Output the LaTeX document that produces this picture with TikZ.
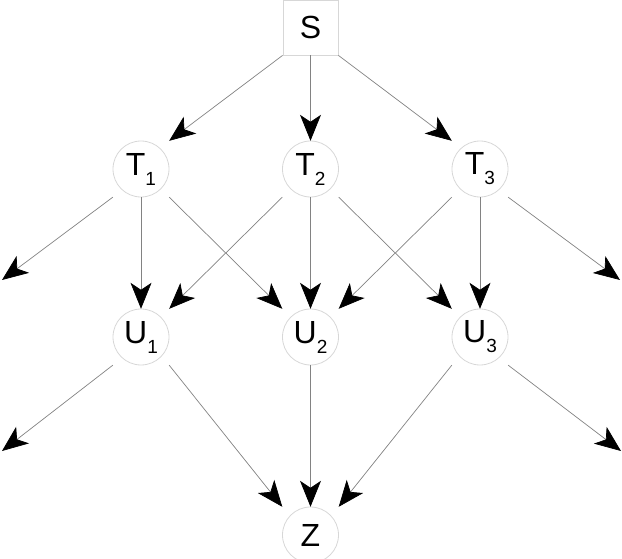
\documentclass[tikz,border=0pt]{standalone}
\usepackage{fontspec}
\setmainfont{Liberation Sans}
\usetikzlibrary{arrows.meta}
\newcommand{\subidx}[1]{\raisebox{-10pt}{\fontsize{19}{19}\selectfont #1}}
\tikzset{bigtip/.tip={Stealth[length=26pt,width=21pt,inset=7pt]}}
\begin{document}
\begin{tikzpicture}[x=1pt,y=-1pt,
  box/.style={rectangle,minimum size=56pt,inner sep=0pt,font=\fontsize{32}{34}\selectfont},
  sq/.style={box,draw={rgb,255:red,215;green,215;blue,215},line width=0.8pt,minimum size=55pt},
  ring/.style={draw={rgb,255:red,215;green,215;blue,215},line width=0.8pt},
  edge/.style={draw={rgb,255:red,130;green,130;blue,130},line width=0.7pt,
    arrows={-bigtip[color=black]}}]
\useasboundingbox (0,0) rectangle (622,559);

\node[sq]  (S)  at (310.5,27.5) {S};
\node[box] (T1) at (141,169) {T\subidx{1}};
\node[box] (T2) at (310.5,169) {T\subidx{2}};
\node[box] (T3) at (480,169) {T\subidx{3}};
\node[box] (U1) at (141,337) {U\subidx{1}};
\node[box] (U2) at (310.5,337) {U\subidx{2}};
\node[box] (U3) at (480,337) {U\subidx{3}};
\node[box] (Z)  at (310.5,535) {Z};

\foreach \n in {T1,T2,T3,U1,U2,U3,Z}
  \draw[ring] (\n.center) circle[radius=28];

\coordinate (fT1) at (2,280);
\coordinate (fT3) at (620,280);
\coordinate (fU1) at (2,451);
\coordinate (fU3) at (621,451);

\draw[edge] (S.south west) -- (T1.north east);
\draw[edge] (S.south) -- (T2.north);
\draw[edge] (S.south east) -- (T3.north west);

\draw[edge] (T1.south west) -- (fT1);
\draw[edge] (T1.south) -- (U1.north);
\draw[edge] (T1.south east) -- (U2.north west);

\draw[edge] (T2.south west) -- (U1.north east);
\draw[edge] (T2.south) -- (U2.north);
\draw[edge] (T2.south east) -- (U3.north west);

\draw[edge] (T3.south west) -- (U2.north east);
\draw[edge] (T3.south) -- (U3.north);
\draw[edge] (T3.south east) -- (fT3);

\draw[edge] (U1.south west) -- (fU1);
\draw[edge] (U1.south east) -- (Z.north west);
\draw[edge] (U2.south) -- (Z.north);
\draw[edge] (U3.south west) -- (Z.north east);
\draw[edge] (U3.south east) -- (fU3);
\end{tikzpicture}
\end{document}
